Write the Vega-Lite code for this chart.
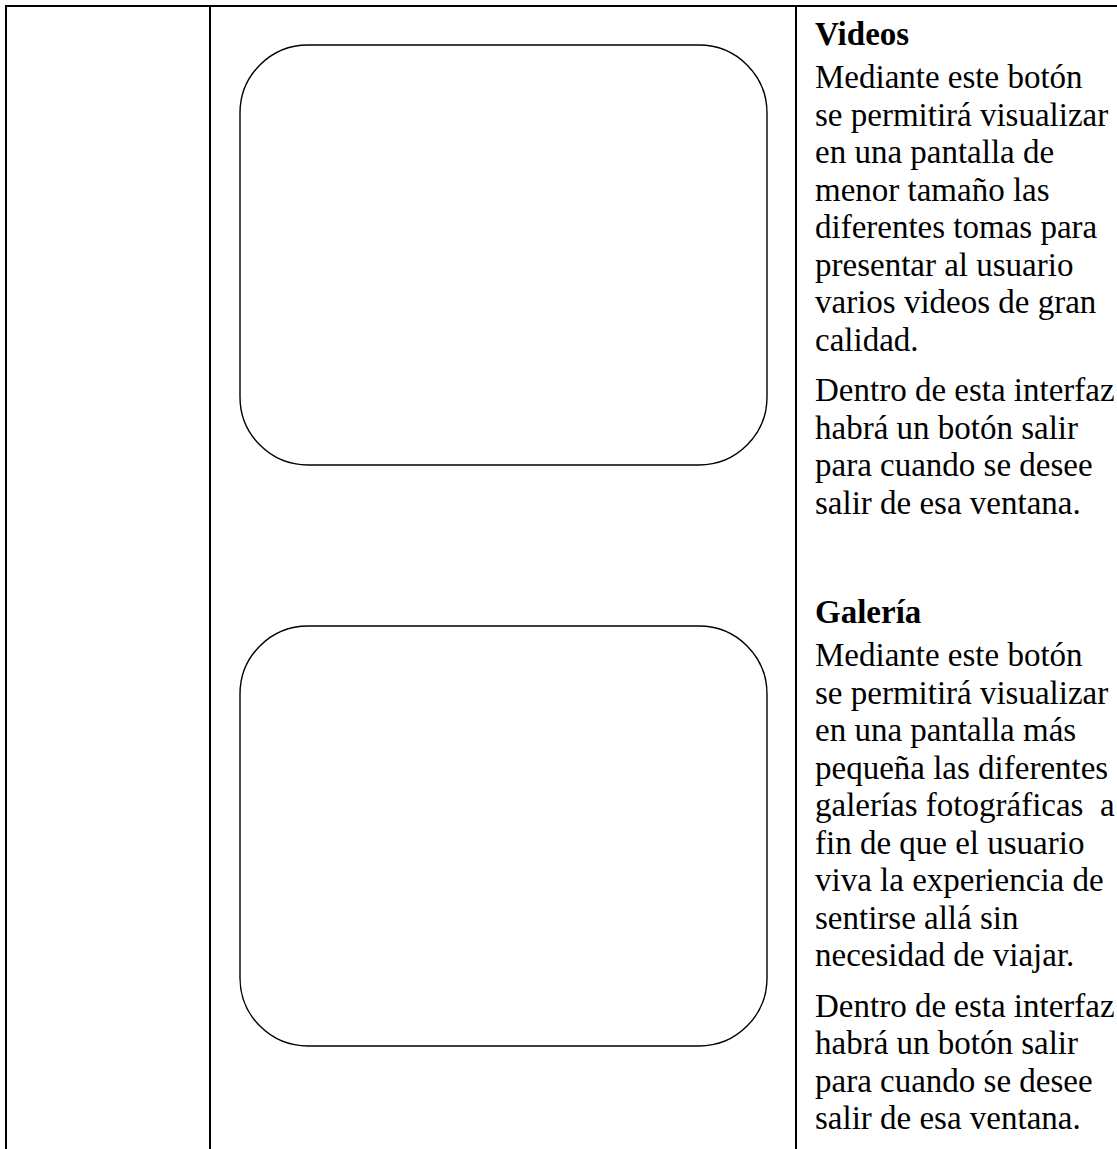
{
  "$schema": "https://vega.github.io/schema/vega-lite/v6.json",
  "width": 1117,
  "height": 1149,
  "autosize": {"type": "none"},
  "padding": 0,
  "background": "white",
  "config": {"view": {"stroke": null}},
  "datasets": {
    "lines": [
      {"x1": 5, "x2": 1117, "y1": 6, "y2": 6},
      {"x1": 6, "x2": 6, "y1": 5, "y2": 1149},
      {"x1": 210, "x2": 210, "y1": 5, "y2": 1149},
      {"x1": 796, "x2": 796, "y1": 5, "y2": 1149}
    ],
    "boxes": [
      {"name": "Videos", "x1": 240, "x2": 767, "y1": 45, "y2": 465},
      {"name": "Galería", "x1": 240, "x2": 767, "y1": 626, "y2": 1046}
    ],
    "headings": [
      {"t": "Videos", "y": 45},
      {"t": "Galería", "y": 623}
    ],
    "texts": [
      {"t": "Mediante este botón", "y": 88},
      {"t": "se permitirá visualizar", "y": 125.5},
      {"t": "en una pantalla de", "y": 163},
      {"t": "menor tamaño las", "y": 200.5},
      {"t": "diferentes tomas para", "y": 238},
      {"t": "presentar al usuario", "y": 275.5},
      {"t": "varios videos de gran", "y": 313},
      {"t": "calidad.", "y": 350.5},
      {"t": "Dentro de esta interfaz", "y": 401},
      {"t": "habrá un botón salir", "y": 438.5},
      {"t": "para cuando se desee", "y": 476},
      {"t": "salir de esa ventana.", "y": 513.5},
      {"t": "Mediante este botón", "y": 666},
      {"t": "se permitirá visualizar", "y": 703.5},
      {"t": "en una pantalla más", "y": 741},
      {"t": "pequeña las diferentes", "y": 778.5},
      {"t": "galerías fotográficas \u00a0a", "y": 816},
      {"t": "fin de que el usuario", "y": 853.5},
      {"t": "viva la experiencia de", "y": 891},
      {"t": "sentirse allá sin", "y": 928.5},
      {"t": "necesidad de viajar.", "y": 966},
      {"t": "Dentro de esta interfaz", "y": 1016.5},
      {"t": "habrá un botón salir", "y": 1054},
      {"t": "para cuando se desee", "y": 1091.5},
      {"t": "salir de esa ventana.", "y": 1129}
    ]
  },
  "layer": [
    {
      "data": {"name": "lines"},
      "mark": {"type": "rule", "stroke": "black", "strokeWidth": 2},
      "encoding": {
        "x": {"field": "x1", "type": "quantitative", "scale": {"domain": [0, 1117], "nice": false, "zero": false}, "axis": null},
        "x2": {"field": "x2"},
        "y": {"field": "y1", "type": "quantitative", "scale": {"domain": [0, 1149], "nice": false, "zero": false, "reverse": true}, "axis": null},
        "y2": {"field": "y2"}
      }
    },
    {
      "data": {"name": "boxes"},
      "mark": {"type": "rect", "fill": "white", "stroke": "black", "strokeWidth": 1.4, "cornerRadius": 68},
      "encoding": {
        "x": {"field": "x1", "type": "quantitative"},
        "x2": {"field": "x2"},
        "y": {"field": "y1", "type": "quantitative"},
        "y2": {"field": "y2"}
      }
    },
    {
      "data": {"name": "headings"},
      "mark": {"type": "text", "align": "left", "baseline": "alphabetic", "font": "Liberation Serif", "fontSize": 33, "fontWeight": "bold", "color": "black", "x": 815},
      "encoding": {
        "y": {"field": "y", "type": "quantitative"},
        "text": {"field": "t"}
      }
    },
    {
      "data": {"name": "texts"},
      "mark": {"type": "text", "align": "left", "baseline": "alphabetic", "font": "Liberation Serif", "fontSize": 33, "color": "black", "x": 815},
      "encoding": {
        "y": {"field": "y", "type": "quantitative"},
        "text": {"field": "t"}
      }
    }
  ]
}
